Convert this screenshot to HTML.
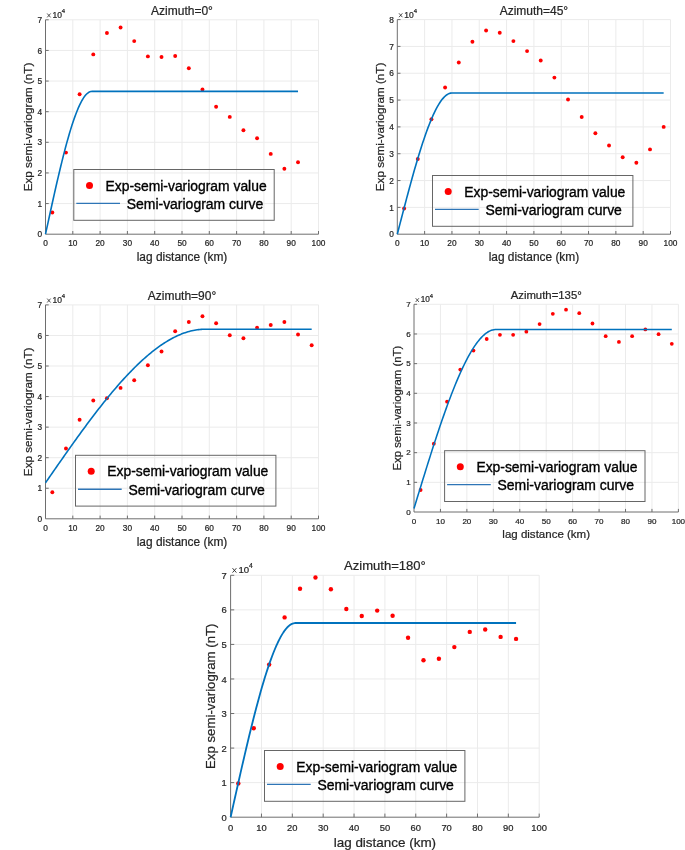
<!DOCTYPE html>
<html><head><meta charset="utf-8"><style>
html,body{margin:0;padding:0;background:#fff;}
svg{display:block;will-change:transform;}
text{font-family:"Liberation Sans", sans-serif;fill:#262626;stroke:#262626;stroke-width:0.22px;}
</style></head><body>
<svg width="685" height="850" viewBox="0 0 685 850">
<rect width="685" height="850" fill="#fff"/>
<g><path d="M72.8 19.8V234.2M100.1 19.8V234.2M127.4 19.8V234.2M154.7 19.8V234.2M182 19.8V234.2M209.3 19.8V234.2M236.6 19.8V234.2M263.9 19.8V234.2M291.2 19.8V234.2M318.5 19.8V234.2M45.5 203.57H318.5M45.5 172.94H318.5M45.5 142.31H318.5M45.5 111.69H318.5M45.5 81.06H318.5M45.5 50.43H318.5M45.5 19.8H318.5" stroke="#ebebeb" stroke-width="1" fill="none"/>
<path d="M45.5 19.8V234.2H318.5M72.8 234.2v-3.2M100.1 234.2v-3.2M127.4 234.2v-3.2M154.7 234.2v-3.2M182 234.2v-3.2M209.3 234.2v-3.2M236.6 234.2v-3.2M263.9 234.2v-3.2M291.2 234.2v-3.2M318.5 234.2v-3.2M45.5 203.57h3.2M45.5 172.94h3.2M45.5 142.31h3.2M45.5 111.69h3.2M45.5 81.06h3.2M45.5 50.43h3.2M45.5 19.8h3.2" stroke="#6e6e6e" stroke-width="1" fill="none"/>
<text x="45.5" y="246.14" font-size="8.3" text-anchor="middle">0</text>
<text x="72.8" y="246.14" font-size="8.3" text-anchor="middle">10</text>
<text x="100.1" y="246.14" font-size="8.3" text-anchor="middle">20</text>
<text x="127.4" y="246.14" font-size="8.3" text-anchor="middle">30</text>
<text x="154.7" y="246.14" font-size="8.3" text-anchor="middle">40</text>
<text x="182" y="246.14" font-size="8.3" text-anchor="middle">50</text>
<text x="209.3" y="246.14" font-size="8.3" text-anchor="middle">60</text>
<text x="236.6" y="246.14" font-size="8.3" text-anchor="middle">70</text>
<text x="263.9" y="246.14" font-size="8.3" text-anchor="middle">80</text>
<text x="291.2" y="246.14" font-size="8.3" text-anchor="middle">90</text>
<text x="318.5" y="246.14" font-size="8.3" text-anchor="middle">100</text>
<text x="42" y="237.37" font-size="8.3" text-anchor="end">0</text>
<text x="42" y="206.74" font-size="8.3" text-anchor="end">1</text>
<text x="42" y="176.11" font-size="8.3" text-anchor="end">2</text>
<text x="42" y="145.49" font-size="8.3" text-anchor="end">3</text>
<text x="42" y="114.86" font-size="8.3" text-anchor="end">4</text>
<text x="42" y="84.23" font-size="8.3" text-anchor="end">5</text>
<text x="42" y="53.6" font-size="8.3" text-anchor="end">6</text>
<text x="42" y="22.97" font-size="8.3" text-anchor="end">7</text>
<path d="M47.2 13.5L50.6 17.4M50.6 13.5L47.2 17.4" stroke="#262626" stroke-width="0.8" fill="none"/>
<text x="52.5" y="17.7" font-size="8.5">10</text>
<text x="61.85" y="13.2" font-size="6">4</text>
<text x="182" y="14.7" font-size="12" text-anchor="middle">Azimuth=0°</text>
<text x="182" y="260.8" font-size="11.9" text-anchor="middle">lag distance (km)</text>
<text transform="translate(31.8 127) rotate(-90)" font-size="11.7" text-anchor="middle">Exp semi-variogram (nT)</text>
<circle cx="52.33" cy="212.5" r="1.95" fill="#ff0000"/>
<circle cx="65.97" cy="152.6" r="1.95" fill="#ff0000"/>
<circle cx="79.62" cy="94.3" r="1.95" fill="#ff0000"/>
<circle cx="93.28" cy="54.4" r="1.95" fill="#ff0000"/>
<circle cx="106.92" cy="33" r="1.95" fill="#ff0000"/>
<circle cx="120.58" cy="27.5" r="1.95" fill="#ff0000"/>
<circle cx="134.22" cy="41.1" r="1.95" fill="#ff0000"/>
<circle cx="147.88" cy="56.4" r="1.95" fill="#ff0000"/>
<circle cx="161.53" cy="57" r="1.95" fill="#ff0000"/>
<circle cx="175.18" cy="56" r="1.95" fill="#ff0000"/>
<circle cx="188.82" cy="68.2" r="1.95" fill="#ff0000"/>
<circle cx="202.47" cy="89.5" r="1.95" fill="#ff0000"/>
<circle cx="216.12" cy="106.8" r="1.95" fill="#ff0000"/>
<circle cx="229.78" cy="116.9" r="1.95" fill="#ff0000"/>
<circle cx="243.43" cy="130.2" r="1.95" fill="#ff0000"/>
<circle cx="257.07" cy="138.3" r="1.95" fill="#ff0000"/>
<circle cx="270.73" cy="153.9" r="1.95" fill="#ff0000"/>
<circle cx="284.38" cy="168.8" r="1.95" fill="#ff0000"/>
<circle cx="298.02" cy="162.2" r="1.95" fill="#ff0000"/>
<polyline points="45.5,234.2 46.76,228.37 48.03,222.55 49.29,216.75 50.55,210.97 51.81,205.23 53.08,199.53 54.34,193.89 55.6,188.3 56.86,182.78 58.13,177.34 59.39,171.99 60.65,166.73 61.91,161.58 63.18,156.53 64.44,151.61 65.7,146.82 66.96,142.16 68.23,137.66 69.49,133.3 70.75,129.12 72.02,125.1 73.28,121.26 74.54,117.62 75.8,114.17 77.07,110.93 78.33,107.91 79.59,105.11 80.85,102.55 82.12,100.22 83.38,98.15 84.64,96.33 85.9,94.78 87.17,93.51 88.43,92.53 89.69,91.83 90.95,91.44 92.22,91.35 93.48,91.35 94.74,91.35 96,91.35 97.27,91.35 98.53,91.35 99.79,91.35 101.06,91.35 102.32,91.35 103.58,91.35 104.84,91.35 106.11,91.35 107.37,91.35 108.63,91.35 109.89,91.35 111.16,91.35 112.42,91.35 113.68,91.35 114.94,91.35 116.21,91.35 117.47,91.35 118.73,91.35 119.99,91.35 121.26,91.35 122.52,91.35 123.78,91.35 125.05,91.35 126.31,91.35 127.57,91.35 128.83,91.35 130.1,91.35 131.36,91.35 132.62,91.35 133.88,91.35 135.15,91.35 136.41,91.35 137.67,91.35 138.93,91.35 140.2,91.35 141.46,91.35 142.72,91.35 143.98,91.35 145.25,91.35 146.51,91.35 147.77,91.35 149.04,91.35 150.3,91.35 151.56,91.35 152.82,91.35 154.09,91.35 155.35,91.35 156.61,91.35 157.87,91.35 159.14,91.35 160.4,91.35 161.66,91.35 162.92,91.35 164.19,91.35 165.45,91.35 166.71,91.35 167.97,91.35 169.24,91.35 170.5,91.35 171.76,91.35 173.03,91.35 174.29,91.35 175.55,91.35 176.81,91.35 178.08,91.35 179.34,91.35 180.6,91.35 181.86,91.35 183.13,91.35 184.39,91.35 185.65,91.35 186.91,91.35 188.18,91.35 189.44,91.35 190.7,91.35 191.96,91.35 193.23,91.35 194.49,91.35 195.75,91.35 197.01,91.35 198.28,91.35 199.54,91.35 200.8,91.35 202.07,91.35 203.33,91.35 204.59,91.35 205.85,91.35 207.12,91.35 208.38,91.35 209.64,91.35 210.9,91.35 212.17,91.35 213.43,91.35 214.69,91.35 215.95,91.35 217.22,91.35 218.48,91.35 219.74,91.35 221,91.35 222.27,91.35 223.53,91.35 224.79,91.35 226.06,91.35 227.32,91.35 228.58,91.35 229.84,91.35 231.11,91.35 232.37,91.35 233.63,91.35 234.89,91.35 236.16,91.35 237.42,91.35 238.68,91.35 239.94,91.35 241.21,91.35 242.47,91.35 243.73,91.35 244.99,91.35 246.26,91.35 247.52,91.35 248.78,91.35 250.05,91.35 251.31,91.35 252.57,91.35 253.83,91.35 255.1,91.35 256.36,91.35 257.62,91.35 258.88,91.35 260.15,91.35 261.41,91.35 262.67,91.35 263.93,91.35 265.2,91.35 266.46,91.35 267.72,91.35 268.98,91.35 270.25,91.35 271.51,91.35 272.77,91.35 274.04,91.35 275.3,91.35 276.56,91.35 277.82,91.35 279.09,91.35 280.35,91.35 281.61,91.35 282.87,91.35 284.14,91.35 285.4,91.35 286.66,91.35 287.92,91.35 289.19,91.35 290.45,91.35 291.71,91.35 292.97,91.35 294.24,91.35 295.5,91.35 296.76,91.35 298.02,91.35" fill="none" stroke="#0072bd" stroke-width="1.6" stroke-linejoin="round"/>
<rect x="73.8" y="169.5" width="200.4" height="50.8" fill="none" stroke="#666" stroke-width="1"/>
<circle cx="89.5" cy="185.5" r="3.5" fill="#ff0000"/>
<path d="M76.3 203.4H120" stroke="#2e75b6" stroke-width="1.4"/>
<text x="105.6" y="190.5" font-size="14" textLength="161" lengthAdjust="spacingAndGlyphs" style="fill:#000;stroke:#000;stroke-width:0.35px">Exp-semi-variogram value</text>
<text x="126.7" y="208.7" font-size="14" textLength="136.5" lengthAdjust="spacingAndGlyphs" style="fill:#000;stroke:#000;stroke-width:0.35px">Semi-variogram curve</text></g>
<g><path d="M424.62 19.6V234.2M451.94 19.6V234.2M479.26 19.6V234.2M506.58 19.6V234.2M533.9 19.6V234.2M561.22 19.6V234.2M588.54 19.6V234.2M615.86 19.6V234.2M643.18 19.6V234.2M670.5 19.6V234.2M397.3 207.38H670.5M397.3 180.55H670.5M397.3 153.72H670.5M397.3 126.9H670.5M397.3 100.07H670.5M397.3 73.25H670.5M397.3 46.42H670.5M397.3 19.6H670.5" stroke="#ebebeb" stroke-width="1" fill="none"/>
<path d="M397.3 19.6V234.2H670.5M424.62 234.2v-3.2M451.94 234.2v-3.2M479.26 234.2v-3.2M506.58 234.2v-3.2M533.9 234.2v-3.2M561.22 234.2v-3.2M588.54 234.2v-3.2M615.86 234.2v-3.2M643.18 234.2v-3.2M670.5 234.2v-3.2M397.3 207.38h3.2M397.3 180.55h3.2M397.3 153.72h3.2M397.3 126.9h3.2M397.3 100.07h3.2M397.3 73.25h3.2M397.3 46.42h3.2M397.3 19.6h3.2" stroke="#6e6e6e" stroke-width="1" fill="none"/>
<text x="397.3" y="246.14" font-size="8.3" text-anchor="middle">0</text>
<text x="424.62" y="246.14" font-size="8.3" text-anchor="middle">10</text>
<text x="451.94" y="246.14" font-size="8.3" text-anchor="middle">20</text>
<text x="479.26" y="246.14" font-size="8.3" text-anchor="middle">30</text>
<text x="506.58" y="246.14" font-size="8.3" text-anchor="middle">40</text>
<text x="533.9" y="246.14" font-size="8.3" text-anchor="middle">50</text>
<text x="561.22" y="246.14" font-size="8.3" text-anchor="middle">60</text>
<text x="588.54" y="246.14" font-size="8.3" text-anchor="middle">70</text>
<text x="615.86" y="246.14" font-size="8.3" text-anchor="middle">80</text>
<text x="643.18" y="246.14" font-size="8.3" text-anchor="middle">90</text>
<text x="670.5" y="246.14" font-size="8.3" text-anchor="middle">100</text>
<text x="393.8" y="237.37" font-size="8.3" text-anchor="end">0</text>
<text x="393.8" y="210.55" font-size="8.3" text-anchor="end">1</text>
<text x="393.8" y="183.72" font-size="8.3" text-anchor="end">2</text>
<text x="393.8" y="156.9" font-size="8.3" text-anchor="end">3</text>
<text x="393.8" y="130.07" font-size="8.3" text-anchor="end">4</text>
<text x="393.8" y="103.25" font-size="8.3" text-anchor="end">5</text>
<text x="393.8" y="76.42" font-size="8.3" text-anchor="end">6</text>
<text x="393.8" y="49.6" font-size="8.3" text-anchor="end">7</text>
<text x="393.8" y="22.77" font-size="8.3" text-anchor="end">8</text>
<path d="M399 13.3L402.4 17.2M402.4 13.3L399 17.2" stroke="#262626" stroke-width="0.8" fill="none"/>
<text x="404.3" y="17.5" font-size="8.5">10</text>
<text x="413.65" y="13" font-size="6">4</text>
<text x="533.9" y="14.5" font-size="12" text-anchor="middle">Azimuth=45°</text>
<text x="533.9" y="260.8" font-size="11.9" text-anchor="middle">lag distance (km)</text>
<text transform="translate(383.6 126.9) rotate(-90)" font-size="11.7" text-anchor="middle">Exp semi-variogram (nT)</text>
<circle cx="404.13" cy="208.5" r="1.95" fill="#ff0000"/>
<circle cx="417.79" cy="159" r="1.95" fill="#ff0000"/>
<circle cx="431.45" cy="119.2" r="1.95" fill="#ff0000"/>
<circle cx="445.11" cy="87.5" r="1.95" fill="#ff0000"/>
<circle cx="458.77" cy="62.5" r="1.95" fill="#ff0000"/>
<circle cx="472.43" cy="41.7" r="1.95" fill="#ff0000"/>
<circle cx="486.09" cy="30.5" r="1.95" fill="#ff0000"/>
<circle cx="499.75" cy="32.7" r="1.95" fill="#ff0000"/>
<circle cx="513.41" cy="41.1" r="1.95" fill="#ff0000"/>
<circle cx="527.07" cy="51.1" r="1.95" fill="#ff0000"/>
<circle cx="540.73" cy="60.5" r="1.95" fill="#ff0000"/>
<circle cx="554.39" cy="77.6" r="1.95" fill="#ff0000"/>
<circle cx="568.05" cy="99.5" r="1.95" fill="#ff0000"/>
<circle cx="581.71" cy="117" r="1.95" fill="#ff0000"/>
<circle cx="595.37" cy="133.2" r="1.95" fill="#ff0000"/>
<circle cx="609.03" cy="145.5" r="1.95" fill="#ff0000"/>
<circle cx="622.69" cy="157.3" r="1.95" fill="#ff0000"/>
<circle cx="636.35" cy="162.8" r="1.95" fill="#ff0000"/>
<circle cx="650.01" cy="149.4" r="1.95" fill="#ff0000"/>
<circle cx="663.67" cy="126.9" r="1.95" fill="#ff0000"/>
<polyline points="397.3,234.2 398.63,229.04 399.96,223.88 401.3,218.74 402.63,213.61 403.96,208.51 405.29,203.45 406.62,198.41 407.95,193.42 409.29,188.48 410.62,183.6 411.95,178.77 413.28,174.02 414.61,169.33 415.95,164.73 417.28,160.21 418.61,155.79 419.94,151.46 421.27,147.24 422.61,143.12 423.94,139.13 425.27,135.25 426.6,131.51 427.93,127.9 429.26,124.43 430.6,121.11 431.93,117.94 433.26,114.93 434.59,112.09 435.92,109.42 437.26,106.93 438.59,104.62 439.92,102.5 441.25,100.58 442.58,98.86 443.91,97.35 445.25,96.05 446.58,94.97 447.91,94.12 449.24,93.51 450.57,93.13 451.91,93 453.24,93 454.57,93 455.9,93 457.23,93 458.57,93 459.9,93 461.23,93 462.56,93 463.89,93 465.22,93 466.56,93 467.89,93 469.22,93 470.55,93 471.88,93 473.22,93 474.55,93 475.88,93 477.21,93 478.54,93 479.87,93 481.21,93 482.54,93 483.87,93 485.2,93 486.53,93 487.87,93 489.2,93 490.53,93 491.86,93 493.19,93 494.53,93 495.86,93 497.19,93 498.52,93 499.85,93 501.18,93 502.52,93 503.85,93 505.18,93 506.51,93 507.84,93 509.18,93 510.51,93 511.84,93 513.17,93 514.5,93 515.83,93 517.17,93 518.5,93 519.83,93 521.16,93 522.49,93 523.83,93 525.16,93 526.49,93 527.82,93 529.15,93 530.49,93 531.82,93 533.15,93 534.48,93 535.81,93 537.14,93 538.48,93 539.81,93 541.14,93 542.47,93 543.8,93 545.14,93 546.47,93 547.8,93 549.13,93 550.46,93 551.79,93 553.13,93 554.46,93 555.79,93 557.12,93 558.45,93 559.79,93 561.12,93 562.45,93 563.78,93 565.11,93 566.44,93 567.78,93 569.11,93 570.44,93 571.77,93 573.1,93 574.44,93 575.77,93 577.1,93 578.43,93 579.76,93 581.1,93 582.43,93 583.76,93 585.09,93 586.42,93 587.75,93 589.09,93 590.42,93 591.75,93 593.08,93 594.41,93 595.75,93 597.08,93 598.41,93 599.74,93 601.07,93 602.4,93 603.74,93 605.07,93 606.4,93 607.73,93 609.06,93 610.4,93 611.73,93 613.06,93 614.39,93 615.72,93 617.06,93 618.39,93 619.72,93 621.05,93 622.38,93 623.71,93 625.05,93 626.38,93 627.71,93 629.04,93 630.37,93 631.71,93 633.04,93 634.37,93 635.7,93 637.03,93 638.36,93 639.7,93 641.03,93 642.36,93 643.69,93 645.02,93 646.36,93 647.69,93 649.02,93 650.35,93 651.68,93 653.02,93 654.35,93 655.68,93 657.01,93 658.34,93 659.67,93 661.01,93 662.34,93 663.67,93" fill="none" stroke="#0072bd" stroke-width="1.6" stroke-linejoin="round"/>
<rect x="432.5" y="175.5" width="200.4" height="50.8" fill="none" stroke="#666" stroke-width="1"/>
<circle cx="448.2" cy="191.5" r="3.5" fill="#ff0000"/>
<path d="M435 209.4H478.7" stroke="#2e75b6" stroke-width="1.4"/>
<text x="464.3" y="196.5" font-size="14" textLength="161" lengthAdjust="spacingAndGlyphs" style="fill:#000;stroke:#000;stroke-width:0.35px">Exp-semi-variogram value</text>
<text x="485.4" y="214.7" font-size="14" textLength="136.5" lengthAdjust="spacingAndGlyphs" style="fill:#000;stroke:#000;stroke-width:0.35px">Semi-variogram curve</text></g>
<g><path d="M72.8 304.9V518.8M100.1 304.9V518.8M127.4 304.9V518.8M154.7 304.9V518.8M182 304.9V518.8M209.3 304.9V518.8M236.6 304.9V518.8M263.9 304.9V518.8M291.2 304.9V518.8M318.5 304.9V518.8M45.5 488.24H318.5M45.5 457.69H318.5M45.5 427.13H318.5M45.5 396.57H318.5M45.5 366.01H318.5M45.5 335.46H318.5M45.5 304.9H318.5" stroke="#ebebeb" stroke-width="1" fill="none"/>
<path d="M45.5 304.9V518.8H318.5M72.8 518.8v-3.2M100.1 518.8v-3.2M127.4 518.8v-3.2M154.7 518.8v-3.2M182 518.8v-3.2M209.3 518.8v-3.2M236.6 518.8v-3.2M263.9 518.8v-3.2M291.2 518.8v-3.2M318.5 518.8v-3.2M45.5 488.24h3.2M45.5 457.69h3.2M45.5 427.13h3.2M45.5 396.57h3.2M45.5 366.01h3.2M45.5 335.46h3.2M45.5 304.9h3.2" stroke="#6e6e6e" stroke-width="1" fill="none"/>
<text x="45.5" y="531.04" font-size="8.3" text-anchor="middle">0</text>
<text x="72.8" y="531.04" font-size="8.3" text-anchor="middle">10</text>
<text x="100.1" y="531.04" font-size="8.3" text-anchor="middle">20</text>
<text x="127.4" y="531.04" font-size="8.3" text-anchor="middle">30</text>
<text x="154.7" y="531.04" font-size="8.3" text-anchor="middle">40</text>
<text x="182" y="531.04" font-size="8.3" text-anchor="middle">50</text>
<text x="209.3" y="531.04" font-size="8.3" text-anchor="middle">60</text>
<text x="236.6" y="531.04" font-size="8.3" text-anchor="middle">70</text>
<text x="263.9" y="531.04" font-size="8.3" text-anchor="middle">80</text>
<text x="291.2" y="531.04" font-size="8.3" text-anchor="middle">90</text>
<text x="318.5" y="531.04" font-size="8.3" text-anchor="middle">100</text>
<text x="42" y="521.97" font-size="8.3" text-anchor="end">0</text>
<text x="42" y="491.41" font-size="8.3" text-anchor="end">1</text>
<text x="42" y="460.86" font-size="8.3" text-anchor="end">2</text>
<text x="42" y="430.3" font-size="8.3" text-anchor="end">3</text>
<text x="42" y="399.74" font-size="8.3" text-anchor="end">4</text>
<text x="42" y="369.19" font-size="8.3" text-anchor="end">5</text>
<text x="42" y="338.63" font-size="8.3" text-anchor="end">6</text>
<text x="42" y="308.07" font-size="8.3" text-anchor="end">7</text>
<path d="M47.2 298.6L50.6 302.5M50.6 298.6L47.2 302.5" stroke="#262626" stroke-width="0.8" fill="none"/>
<text x="52.5" y="302.8" font-size="8.5">10</text>
<text x="61.85" y="298.3" font-size="6">4</text>
<text x="182" y="299.8" font-size="12" text-anchor="middle">Azimuth=90°</text>
<text x="182" y="545.7" font-size="11.9" text-anchor="middle">lag distance (km)</text>
<text transform="translate(31.8 411.85) rotate(-90)" font-size="11.7" text-anchor="middle">Exp semi-variogram (nT)</text>
<circle cx="52.33" cy="492.2" r="1.95" fill="#ff0000"/>
<circle cx="65.97" cy="448.5" r="1.95" fill="#ff0000"/>
<circle cx="79.62" cy="419.7" r="1.95" fill="#ff0000"/>
<circle cx="93.28" cy="400.5" r="1.95" fill="#ff0000"/>
<circle cx="106.92" cy="398.3" r="1.95" fill="#ff0000"/>
<circle cx="120.58" cy="387.9" r="1.95" fill="#ff0000"/>
<circle cx="134.22" cy="380.2" r="1.95" fill="#ff0000"/>
<circle cx="147.88" cy="365.3" r="1.95" fill="#ff0000"/>
<circle cx="161.53" cy="351.5" r="1.95" fill="#ff0000"/>
<circle cx="175.18" cy="331.2" r="1.95" fill="#ff0000"/>
<circle cx="188.82" cy="322" r="1.95" fill="#ff0000"/>
<circle cx="202.47" cy="316.3" r="1.95" fill="#ff0000"/>
<circle cx="216.12" cy="323.3" r="1.95" fill="#ff0000"/>
<circle cx="229.78" cy="335.3" r="1.95" fill="#ff0000"/>
<circle cx="243.43" cy="338.2" r="1.95" fill="#ff0000"/>
<circle cx="257.07" cy="327.7" r="1.95" fill="#ff0000"/>
<circle cx="270.73" cy="325" r="1.95" fill="#ff0000"/>
<circle cx="284.38" cy="322" r="1.95" fill="#ff0000"/>
<circle cx="298.02" cy="334.5" r="1.95" fill="#ff0000"/>
<circle cx="311.68" cy="345.2" r="1.95" fill="#ff0000"/>
<polyline points="45.5,482.8 46.83,480.88 48.16,478.96 49.49,477.04 50.82,475.12 52.15,473.21 53.49,471.29 54.82,469.38 56.15,467.46 57.48,465.55 58.81,463.64 60.14,461.74 61.47,459.84 62.8,457.94 64.13,456.04 65.46,454.15 66.79,452.26 68.12,450.38 69.46,448.5 70.79,446.62 72.12,444.76 73.45,442.89 74.78,441.03 76.11,439.18 77.44,437.33 78.77,435.49 80.1,433.66 81.43,431.83 82.76,430.02 84.1,428.2 85.43,426.4 86.76,424.6 88.09,422.82 89.42,421.04 90.75,419.27 92.08,417.51 93.41,415.75 94.74,414.01 96.07,412.28 97.4,410.56 98.73,408.84 100.07,407.14 101.4,405.45 102.73,403.77 104.06,402.11 105.39,400.45 106.72,398.81 108.05,397.17 109.38,395.56 110.71,393.95 112.04,392.36 113.37,390.78 114.71,389.21 116.04,387.66 117.37,386.12 118.7,384.59 120.03,383.09 121.36,381.59 122.69,380.11 124.02,378.65 125.35,377.2 126.68,375.77 128.01,374.35 129.35,372.95 130.68,371.57 132.01,370.21 133.34,368.86 134.67,367.53 136,366.21 137.33,364.92 138.66,363.64 139.99,362.39 141.32,361.15 142.65,359.93 143.98,358.73 145.32,357.55 146.65,356.39 147.98,355.25 149.31,354.13 150.64,353.03 151.97,351.96 153.3,350.9 154.63,349.87 155.96,348.85 157.29,347.86 158.62,346.89 159.96,345.95 161.29,345.03 162.62,344.13 163.95,343.25 165.28,342.4 166.61,341.57 167.94,340.77 169.27,339.99 170.6,339.23 171.93,338.51 173.26,337.8 174.59,337.12 175.93,336.47 177.26,335.84 178.59,335.24 179.92,334.67 181.25,334.12 182.58,333.61 183.91,333.11 185.24,332.65 186.57,332.21 187.9,331.81 189.23,331.43 190.57,331.08 191.9,330.76 193.23,330.46 194.56,330.2 195.89,329.97 197.22,329.77 198.55,329.59 199.88,329.45 201.21,329.34 202.54,329.26 203.87,329.22 205.21,329.2 206.54,329.2 207.87,329.2 209.2,329.2 210.53,329.2 211.86,329.2 213.19,329.2 214.52,329.2 215.85,329.2 217.18,329.2 218.51,329.2 219.84,329.2 221.18,329.2 222.51,329.2 223.84,329.2 225.17,329.2 226.5,329.2 227.83,329.2 229.16,329.2 230.49,329.2 231.82,329.2 233.15,329.2 234.48,329.2 235.82,329.2 237.15,329.2 238.48,329.2 239.81,329.2 241.14,329.2 242.47,329.2 243.8,329.2 245.13,329.2 246.46,329.2 247.79,329.2 249.12,329.2 250.45,329.2 251.79,329.2 253.12,329.2 254.45,329.2 255.78,329.2 257.11,329.2 258.44,329.2 259.77,329.2 261.1,329.2 262.43,329.2 263.76,329.2 265.09,329.2 266.43,329.2 267.76,329.2 269.09,329.2 270.42,329.2 271.75,329.2 273.08,329.2 274.41,329.2 275.74,329.2 277.07,329.2 278.4,329.2 279.73,329.2 281.06,329.2 282.4,329.2 283.73,329.2 285.06,329.2 286.39,329.2 287.72,329.2 289.05,329.2 290.38,329.2 291.71,329.2 293.04,329.2 294.37,329.2 295.7,329.2 297.04,329.2 298.37,329.2 299.7,329.2 301.03,329.2 302.36,329.2 303.69,329.2 305.02,329.2 306.35,329.2 307.68,329.2 309.01,329.2 310.34,329.2 311.68,329.2" fill="none" stroke="#0072bd" stroke-width="1.6" stroke-linejoin="round"/>
<rect x="75.5" y="455.3" width="200.4" height="50.8" fill="none" stroke="#666" stroke-width="1"/>
<circle cx="91.2" cy="471.3" r="3.5" fill="#ff0000"/>
<path d="M78 489.2H121.7" stroke="#2e75b6" stroke-width="1.4"/>
<text x="107.3" y="476.3" font-size="14" textLength="161" lengthAdjust="spacingAndGlyphs" style="fill:#000;stroke:#000;stroke-width:0.35px">Exp-semi-variogram value</text>
<text x="128.4" y="494.5" font-size="14" textLength="136.5" lengthAdjust="spacingAndGlyphs" style="fill:#000;stroke:#000;stroke-width:0.35px">Semi-variogram curve</text></g>
<g><path d="M440.44 304.3V512M466.88 304.3V512M493.32 304.3V512M519.76 304.3V512M546.2 304.3V512M572.64 304.3V512M599.08 304.3V512M625.52 304.3V512M651.96 304.3V512M678.4 304.3V512M414 482.33H678.4M414 452.66H678.4M414 422.99H678.4M414 393.31H678.4M414 363.64H678.4M414 333.97H678.4M414 304.3H678.4" stroke="#ebebeb" stroke-width="1" fill="none"/>
<path d="M414 304.3V512H678.4M440.44 512v-3.1M466.88 512v-3.1M493.32 512v-3.1M519.76 512v-3.1M546.2 512v-3.1M572.64 512v-3.1M599.08 512v-3.1M625.52 512v-3.1M651.96 512v-3.1M678.4 512v-3.1M414 482.33h3.1M414 452.66h3.1M414 422.99h3.1M414 393.31h3.1M414 363.64h3.1M414 333.97h3.1M414 304.3h3.1" stroke="#6e6e6e" stroke-width="1" fill="none"/>
<text x="414" y="523.57" font-size="8.04" text-anchor="middle">0</text>
<text x="440.44" y="523.57" font-size="8.04" text-anchor="middle">10</text>
<text x="466.88" y="523.57" font-size="8.04" text-anchor="middle">20</text>
<text x="493.32" y="523.57" font-size="8.04" text-anchor="middle">30</text>
<text x="519.76" y="523.57" font-size="8.04" text-anchor="middle">40</text>
<text x="546.2" y="523.57" font-size="8.04" text-anchor="middle">50</text>
<text x="572.64" y="523.57" font-size="8.04" text-anchor="middle">60</text>
<text x="599.08" y="523.57" font-size="8.04" text-anchor="middle">70</text>
<text x="625.52" y="523.57" font-size="8.04" text-anchor="middle">80</text>
<text x="651.96" y="523.57" font-size="8.04" text-anchor="middle">90</text>
<text x="678.4" y="523.57" font-size="8.04" text-anchor="middle">100</text>
<text x="410.61" y="514.59" font-size="8.04" text-anchor="end">0</text>
<text x="410.61" y="484.92" font-size="8.04" text-anchor="end">1</text>
<text x="410.61" y="455.24" font-size="8.04" text-anchor="end">2</text>
<text x="410.61" y="425.57" font-size="8.04" text-anchor="end">3</text>
<text x="410.61" y="395.9" font-size="8.04" text-anchor="end">4</text>
<text x="410.61" y="366.23" font-size="8.04" text-anchor="end">5</text>
<text x="410.61" y="336.56" font-size="8.04" text-anchor="end">6</text>
<text x="410.61" y="306.89" font-size="8.04" text-anchor="end">7</text>
<path d="M415.65 298.2L418.94 301.98M418.94 298.2L415.65 301.98" stroke="#262626" stroke-width="0.77" fill="none"/>
<text x="420.78" y="302.27" font-size="8.23">10</text>
<text x="429.83" y="297.91" font-size="5.81">4</text>
<text x="546.2" y="299.36" font-size="11.35" text-anchor="middle">Azimuth=135°</text>
<text x="546.2" y="537.76" font-size="11.53" text-anchor="middle">lag distance (km)</text>
<text transform="translate(400.73 408.15) rotate(-90)" font-size="11.33" text-anchor="middle">Exp semi-variogram (nT)</text>
<circle cx="420.61" cy="490" r="1.89" fill="#ff0000"/>
<circle cx="433.83" cy="443.7" r="1.89" fill="#ff0000"/>
<circle cx="447.05" cy="401.7" r="1.89" fill="#ff0000"/>
<circle cx="460.27" cy="369.6" r="1.89" fill="#ff0000"/>
<circle cx="473.49" cy="350.6" r="1.89" fill="#ff0000"/>
<circle cx="486.71" cy="339" r="1.89" fill="#ff0000"/>
<circle cx="499.93" cy="334.8" r="1.89" fill="#ff0000"/>
<circle cx="513.15" cy="334.8" r="1.89" fill="#ff0000"/>
<circle cx="526.37" cy="331.7" r="1.89" fill="#ff0000"/>
<circle cx="539.59" cy="324.1" r="1.89" fill="#ff0000"/>
<circle cx="552.81" cy="313.8" r="1.89" fill="#ff0000"/>
<circle cx="566.03" cy="309.7" r="1.89" fill="#ff0000"/>
<circle cx="579.25" cy="313.2" r="1.89" fill="#ff0000"/>
<circle cx="592.47" cy="323.5" r="1.89" fill="#ff0000"/>
<circle cx="605.69" cy="336.2" r="1.89" fill="#ff0000"/>
<circle cx="618.91" cy="341.9" r="1.89" fill="#ff0000"/>
<circle cx="632.13" cy="336.2" r="1.89" fill="#ff0000"/>
<circle cx="645.35" cy="329.4" r="1.89" fill="#ff0000"/>
<circle cx="658.57" cy="334.2" r="1.89" fill="#ff0000"/>
<circle cx="671.79" cy="343.8" r="1.89" fill="#ff0000"/>
<polyline points="414,508.5 415.29,504.28 416.58,500.06 417.87,495.84 419.16,491.63 420.44,487.43 421.73,483.24 423.02,479.06 424.31,474.9 425.6,470.75 426.89,466.62 428.18,462.52 429.47,458.43 430.76,454.37 432.05,450.34 433.33,446.34 434.62,442.37 435.91,438.43 437.2,434.53 438.49,430.66 439.78,426.84 441.07,423.05 442.36,419.31 443.65,415.62 444.93,411.97 446.22,408.38 447.51,404.84 448.8,401.35 450.09,397.91 451.38,394.54 452.67,391.23 453.96,387.98 455.25,384.79 456.54,381.67 457.82,378.62 459.11,375.64 460.4,372.73 461.69,369.9 462.98,367.15 464.27,364.47 465.56,361.88 466.85,359.37 468.14,356.95 469.42,354.61 470.71,352.36 472,350.21 473.29,348.15 474.58,346.19 475.87,344.32 477.16,342.55 478.45,340.89 479.74,339.33 481.03,337.88 482.31,336.53 483.6,335.3 484.89,334.18 486.18,333.17 487.47,332.28 488.76,331.51 490.05,330.87 491.34,330.34 492.63,329.94 493.91,329.67 495.2,329.52 496.49,329.5 497.78,329.5 499.07,329.5 500.36,329.5 501.65,329.5 502.94,329.5 504.23,329.5 505.52,329.5 506.8,329.5 508.09,329.5 509.38,329.5 510.67,329.5 511.96,329.5 513.25,329.5 514.54,329.5 515.83,329.5 517.12,329.5 518.4,329.5 519.69,329.5 520.98,329.5 522.27,329.5 523.56,329.5 524.85,329.5 526.14,329.5 527.43,329.5 528.72,329.5 530.01,329.5 531.29,329.5 532.58,329.5 533.87,329.5 535.16,329.5 536.45,329.5 537.74,329.5 539.03,329.5 540.32,329.5 541.61,329.5 542.89,329.5 544.18,329.5 545.47,329.5 546.76,329.5 548.05,329.5 549.34,329.5 550.63,329.5 551.92,329.5 553.21,329.5 554.5,329.5 555.78,329.5 557.07,329.5 558.36,329.5 559.65,329.5 560.94,329.5 562.23,329.5 563.52,329.5 564.81,329.5 566.1,329.5 567.39,329.5 568.67,329.5 569.96,329.5 571.25,329.5 572.54,329.5 573.83,329.5 575.12,329.5 576.41,329.5 577.7,329.5 578.99,329.5 580.27,329.5 581.56,329.5 582.85,329.5 584.14,329.5 585.43,329.5 586.72,329.5 588.01,329.5 589.3,329.5 590.59,329.5 591.88,329.5 593.16,329.5 594.45,329.5 595.74,329.5 597.03,329.5 598.32,329.5 599.61,329.5 600.9,329.5 602.19,329.5 603.48,329.5 604.76,329.5 606.05,329.5 607.34,329.5 608.63,329.5 609.92,329.5 611.21,329.5 612.5,329.5 613.79,329.5 615.08,329.5 616.37,329.5 617.65,329.5 618.94,329.5 620.23,329.5 621.52,329.5 622.81,329.5 624.1,329.5 625.39,329.5 626.68,329.5 627.97,329.5 629.25,329.5 630.54,329.5 631.83,329.5 633.12,329.5 634.41,329.5 635.7,329.5 636.99,329.5 638.28,329.5 639.57,329.5 640.86,329.5 642.14,329.5 643.43,329.5 644.72,329.5 646.01,329.5 647.3,329.5 648.59,329.5 649.88,329.5 651.17,329.5 652.46,329.5 653.74,329.5 655.03,329.5 656.32,329.5 657.61,329.5 658.9,329.5 660.19,329.5 661.48,329.5 662.77,329.5 664.06,329.5 665.35,329.5 666.63,329.5 667.92,329.5 669.21,329.5 670.5,329.5 671.79,329.5" fill="none" stroke="#0072bd" stroke-width="1.55" stroke-linejoin="round"/>
<rect x="444.6" y="450.7" width="200.4" height="50.8" fill="none" stroke="#666" stroke-width="1"/>
<circle cx="460.3" cy="466.7" r="3.5" fill="#ff0000"/>
<path d="M447.1 484.6H490.8" stroke="#2e75b6" stroke-width="1.4"/>
<text x="476.4" y="471.7" font-size="14" textLength="161" lengthAdjust="spacingAndGlyphs" style="fill:#000;stroke:#000;stroke-width:0.35px">Exp-semi-variogram value</text>
<text x="497.5" y="489.9" font-size="14" textLength="136.5" lengthAdjust="spacingAndGlyphs" style="fill:#000;stroke:#000;stroke-width:0.35px">Semi-variogram curve</text></g>
<g><path d="M261.46 575.3V817.2M292.32 575.3V817.2M323.18 575.3V817.2M354.04 575.3V817.2M384.9 575.3V817.2M415.76 575.3V817.2M446.62 575.3V817.2M477.48 575.3V817.2M508.34 575.3V817.2M539.2 575.3V817.2M230.6 782.64H539.2M230.6 748.09H539.2M230.6 713.53H539.2M230.6 678.97H539.2M230.6 644.41H539.2M230.6 609.86H539.2M230.6 575.3H539.2" stroke="#ebebeb" stroke-width="1" fill="none"/>
<path d="M230.6 575.3V817.2H539.2M261.46 817.2v-3.62M292.32 817.2v-3.62M323.18 817.2v-3.62M354.04 817.2v-3.62M384.9 817.2v-3.62M415.76 817.2v-3.62M446.62 817.2v-3.62M477.48 817.2v-3.62M508.34 817.2v-3.62M539.2 817.2v-3.62M230.6 782.64h3.62M230.6 748.09h3.62M230.6 713.53h3.62M230.6 678.97h3.62M230.6 644.41h3.62M230.6 609.86h3.62M230.6 575.3h3.62" stroke="#6e6e6e" stroke-width="1" fill="none"/>
<text x="230.6" y="830.7" font-size="9.38" text-anchor="middle">0</text>
<text x="261.46" y="830.7" font-size="9.38" text-anchor="middle">10</text>
<text x="292.32" y="830.7" font-size="9.38" text-anchor="middle">20</text>
<text x="323.18" y="830.7" font-size="9.38" text-anchor="middle">30</text>
<text x="354.04" y="830.7" font-size="9.38" text-anchor="middle">40</text>
<text x="384.9" y="830.7" font-size="9.38" text-anchor="middle">50</text>
<text x="415.76" y="830.7" font-size="9.38" text-anchor="middle">60</text>
<text x="446.62" y="830.7" font-size="9.38" text-anchor="middle">70</text>
<text x="477.48" y="830.7" font-size="9.38" text-anchor="middle">80</text>
<text x="508.34" y="830.7" font-size="9.38" text-anchor="middle">90</text>
<text x="539.2" y="830.7" font-size="9.38" text-anchor="middle">100</text>
<text x="226.64" y="820.78" font-size="9.38" text-anchor="end">0</text>
<text x="226.64" y="786.23" font-size="9.38" text-anchor="end">1</text>
<text x="226.64" y="751.67" font-size="9.38" text-anchor="end">2</text>
<text x="226.64" y="717.11" font-size="9.38" text-anchor="end">3</text>
<text x="226.64" y="682.56" font-size="9.38" text-anchor="end">4</text>
<text x="226.64" y="648" font-size="9.38" text-anchor="end">5</text>
<text x="226.64" y="613.44" font-size="9.38" text-anchor="end">6</text>
<text x="226.64" y="578.88" font-size="9.38" text-anchor="end">7</text>
<path d="M232.52 568.18L236.36 572.59M236.36 568.18L232.52 572.59" stroke="#262626" stroke-width="0.9" fill="none"/>
<text x="238.51" y="572.93" font-size="9.6">10</text>
<text x="249.08" y="567.84" font-size="6.78">4</text>
<text x="384.9" y="569.54" font-size="13.05" text-anchor="middle">Azimuth=180°</text>
<text x="384.9" y="847.26" font-size="13.45" text-anchor="middle">lag distance (km)</text>
<text transform="translate(215.12 696.25) rotate(-90)" font-size="13.22" text-anchor="middle">Exp semi-variogram (nT)</text>
<circle cx="238.31" cy="783.4" r="2.2" fill="#ff0000"/>
<circle cx="253.75" cy="728.2" r="2.2" fill="#ff0000"/>
<circle cx="269.18" cy="664.6" r="2.2" fill="#ff0000"/>
<circle cx="284.61" cy="617.4" r="2.2" fill="#ff0000"/>
<circle cx="300.03" cy="588.7" r="2.2" fill="#ff0000"/>
<circle cx="315.47" cy="577.5" r="2.2" fill="#ff0000"/>
<circle cx="330.89" cy="589.2" r="2.2" fill="#ff0000"/>
<circle cx="346.32" cy="609" r="2.2" fill="#ff0000"/>
<circle cx="361.75" cy="616" r="2.2" fill="#ff0000"/>
<circle cx="377.19" cy="610.6" r="2.2" fill="#ff0000"/>
<circle cx="392.62" cy="615.8" r="2.2" fill="#ff0000"/>
<circle cx="408.05" cy="637.7" r="2.2" fill="#ff0000"/>
<circle cx="423.48" cy="660.2" r="2.2" fill="#ff0000"/>
<circle cx="438.9" cy="658.8" r="2.2" fill="#ff0000"/>
<circle cx="454.34" cy="647.1" r="2.2" fill="#ff0000"/>
<circle cx="469.76" cy="631.9" r="2.2" fill="#ff0000"/>
<circle cx="485.2" cy="629.5" r="2.2" fill="#ff0000"/>
<circle cx="500.62" cy="636.9" r="2.2" fill="#ff0000"/>
<circle cx="516.06" cy="638.9" r="2.2" fill="#ff0000"/>
<polyline points="230.6,817.2 232.03,810.79 233.45,804.38 234.88,797.98 236.31,791.6 237.74,785.25 239.16,778.93 240.59,772.65 242.02,766.41 243.45,760.22 244.87,754.08 246.3,748.01 247.73,742.01 249.15,736.08 250.58,730.23 252.01,724.47 253.44,718.8 254.86,713.23 256.29,707.77 257.72,702.42 259.15,697.19 260.57,692.08 262,687.1 263.43,682.26 264.85,677.57 266.28,673.02 267.71,668.63 269.14,664.4 270.56,660.34 271.99,656.45 273.42,652.74 274.85,649.22 276.27,645.89 277.7,642.76 279.13,639.84 280.55,637.13 281.98,634.64 283.41,632.37 284.84,630.33 286.26,628.52 287.69,626.96 289.12,625.65 290.55,624.6 291.97,623.8 293.4,623.28 294.83,623.02 296.25,623 297.68,623 299.11,623 300.54,623 301.96,623 303.39,623 304.82,623 306.25,623 307.67,623 309.1,623 310.53,623 311.95,623 313.38,623 314.81,623 316.24,623 317.66,623 319.09,623 320.52,623 321.95,623 323.37,623 324.8,623 326.23,623 327.65,623 329.08,623 330.51,623 331.94,623 333.36,623 334.79,623 336.22,623 337.65,623 339.07,623 340.5,623 341.93,623 343.35,623 344.78,623 346.21,623 347.64,623 349.06,623 350.49,623 351.92,623 353.35,623 354.77,623 356.2,623 357.63,623 359.05,623 360.48,623 361.91,623 363.34,623 364.76,623 366.19,623 367.62,623 369.05,623 370.47,623 371.9,623 373.33,623 374.75,623 376.18,623 377.61,623 379.04,623 380.46,623 381.89,623 383.32,623 384.75,623 386.17,623 387.6,623 389.03,623 390.45,623 391.88,623 393.31,623 394.74,623 396.16,623 397.59,623 399.02,623 400.45,623 401.87,623 403.3,623 404.73,623 406.15,623 407.58,623 409.01,623 410.44,623 411.86,623 413.29,623 414.72,623 416.15,623 417.57,623 419,623 420.43,623 421.85,623 423.28,623 424.71,623 426.14,623 427.56,623 428.99,623 430.42,623 431.85,623 433.27,623 434.7,623 436.13,623 437.55,623 438.98,623 440.41,623 441.84,623 443.26,623 444.69,623 446.12,623 447.55,623 448.97,623 450.4,623 451.83,623 453.25,623 454.68,623 456.11,623 457.54,623 458.96,623 460.39,623 461.82,623 463.25,623 464.67,623 466.1,623 467.53,623 468.95,623 470.38,623 471.81,623 473.24,623 474.66,623 476.09,623 477.52,623 478.95,623 480.37,623 481.8,623 483.23,623 484.65,623 486.08,623 487.51,623 488.94,623 490.36,623 491.79,623 493.22,623 494.65,623 496.07,623 497.5,623 498.93,623 500.35,623 501.78,623 503.21,623 504.64,623 506.06,623 507.49,623 508.92,623 510.35,623 511.77,623 513.2,623 514.63,623 516.06,623" fill="none" stroke="#0072bd" stroke-width="1.81" stroke-linejoin="round"/>
<rect x="264.5" y="750.5" width="200.4" height="50.8" fill="none" stroke="#666" stroke-width="1"/>
<circle cx="280.2" cy="766.5" r="3.5" fill="#ff0000"/>
<path d="M267 784.4H310.7" stroke="#2e75b6" stroke-width="1.4"/>
<text x="296.3" y="771.5" font-size="14" textLength="161" lengthAdjust="spacingAndGlyphs" style="fill:#000;stroke:#000;stroke-width:0.35px">Exp-semi-variogram value</text>
<text x="317.4" y="789.7" font-size="14" textLength="136.5" lengthAdjust="spacingAndGlyphs" style="fill:#000;stroke:#000;stroke-width:0.35px">Semi-variogram curve</text></g>
</svg>
</body></html>
